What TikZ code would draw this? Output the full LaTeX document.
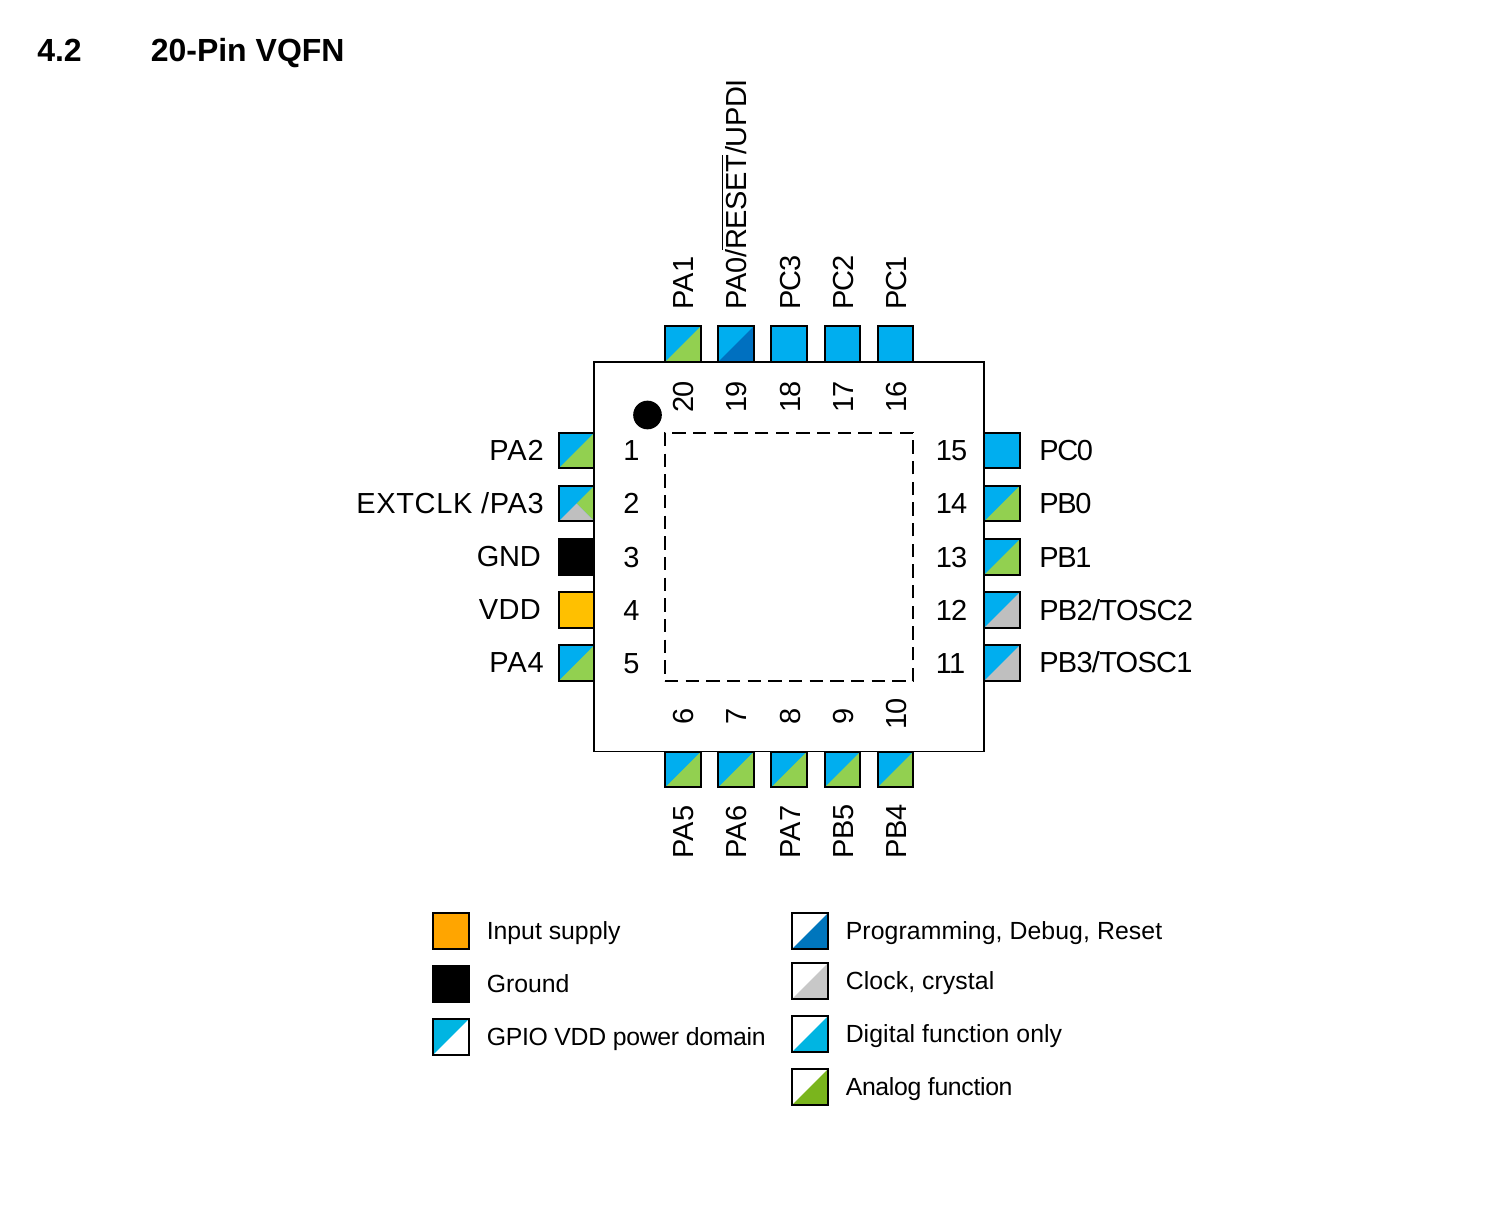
\documentclass[tikz,border=0pt]{standalone}
\usepackage{fontspec}
\setmainfont{Liberation Sans}
\definecolor{pblue}{HTML}{00AEEF}
\definecolor{pgreen}{HTML}{92D050}
\definecolor{pgray}{HTML}{BFBFBF}
\definecolor{pdark}{HTML}{0070C0}
\definecolor{pyellow}{HTML}{FFC000}
\definecolor{lorange}{HTML}{FFA500}
\definecolor{lblue}{HTML}{00B5E2}
\definecolor{lgreen}{HTML}{7AB51D}
\definecolor{lgray}{HTML}{C8C8C8}
\definecolor{ldark}{HTML}{0076BD}
\newcommand{\ovlbar}[1]{\setbox0\hbox{#1}\rlap{\rule[\dimexpr\ht0+1.8pt\relax]{\wd0}{0.8pt}}\box0}
\newcommand{\spc}[2]{{\addfontfeature{LetterSpace=#1}#2}}
\tikzset{
  x=0.75pt,y=-0.75pt,
  box/.style={draw=black,line width=1.3pt,minimum size=26.6pt,inner sep=0pt,outer sep=0pt},
  duo/.style 2 args={box,fill=#1,path picture={
    \fill[#2] (path picture bounding box.north east) -- (path picture bounding box.south east) -- (path picture bounding box.south west) -- cycle;}},
  trio/.style={box,fill=pblue,path picture={
    \fill[pgreen] (path picture bounding box.north east) -- (path picture bounding box.south east) -- (path picture bounding box.center) -- cycle;
    \fill[pgray] (path picture bounding box.south west) -- (path picture bounding box.south east) -- (path picture bounding box.center) -- cycle;}},
  plain/.style={box,fill=#1},
  an/.style={duo={pblue}{pgreen}},
  ck/.style={duo={pblue}{pgray}},
  pin/.style={inner sep=0pt,font=\fontsize{21.75pt}{24pt}\selectfont},
  vpin/.style={pin,rotate=90,anchor=base west},
  hnum/.style={pin,anchor=base},
  vnum/.style={pin,rotate=90,anchor=base},
  legend/.style={inner sep=0pt,anchor=base west,font=\fontsize{18.6pt}{22pt}\selectfont},
  heading/.style={inner sep=0pt,anchor=base west,font=\fontsize{24pt}{28pt}\selectfont\bfseries},
}
\begin{document}
\begin{tikzpicture}
\useasboundingbox (0,0) rectangle (1512,1212);
\node[heading] (secnum) at (37,62) {4.2};
\node[heading] (title) at (150.5,62) {20-Pin VQFN};

\node[box,minimum size=292.3pt] (chip) at (789,556.5) {};
\node[draw=black,line width=1pt,dash pattern=on 10pt off 5.5pt,minimum size=186pt,inner sep=0pt] (pad) at (789,557) {};
\node[fill=black,circle,minimum size=21.5pt,inner sep=0pt] (dot) at (647.5,415) {};

% left pins
\node[an] (p1) at (576.5,450.5) {};
\node[trio] (p2) at (576.5,503.5) {};
\node[plain=black] (p3) at (576.5,557) {};
\node[plain=pyellow] (p4) at (576.5,610) {};
\node[an] (p5) at (576.5,663) {};
% bottom pins
\node[an] (p6) at (683,769.5) {};
\node[an] (p7) at (736,769.5) {};
\node[an] (p8) at (789,769.5) {};
\node[an] (p9) at (842.5,769.5) {};
\node[an] (p10) at (895.5,769.5) {};
% right pins
\node[ck] (p11) at (1002,663) {};
\node[ck] (p12) at (1002,610) {};
\node[an] (p13) at (1002,557) {};
\node[an] (p14) at (1002,503.5) {};
\node[plain=pblue] (p15) at (1002,450.5) {};
% top pins
\node[plain=pblue] (p16) at (895.5,344) {};
\node[plain=pblue] (p17) at (842.5,344) {};
\node[plain=pblue] (p18) at (789,344) {};
\node[duo={pblue}{pdark}] (p19) at (736,344) {};
\node[an] (p20) at (683,344) {};

% left labels
\node[pin,anchor=base east] (l1) at (544,460) {\spc{3}{PA2}};
\node[pin,anchor=base east] (l2) at (544,513) {\spc{2.2}{EXTCLK /PA3}};
\node[pin,anchor=base east] (l3) at (541,566.5) {\spc{-1}{GND}};
\node[pin,anchor=base east] (l4) at (541,619.5) {\spc{1}{VDD}};
\node[pin,anchor=base east] (l5) at (544,672.5) {\spc{3}{PA4}};
% right labels
\node[pin,anchor=base west] (l15) at (1039,460) {\spc{-4.5}{PC0}};
\node[pin,anchor=base west] (l14) at (1039,513) {\spc{-4.5}{PB0}};
\node[pin,anchor=base west] (l13) at (1039,567) {\spc{-4.5}{PB1}};
\node[pin,anchor=base west] (l12) at (1039,620) {\spc{-2.3}{PB2/TOSC2}};
\node[pin,anchor=base west] (l11) at (1039,672) {\spc{-2.5}{PB3/TOSC1}};
% top labels
\node[vpin] (l20) at (693,309.5) {PA1};
\node[vpin] (l19) at (746,309.5) {\spc{-1.5}{PA0/\ovlbar{RESET}/UPDI}};
\node[vpin] (l18) at (800,309.5) {\spc{-5}{PC3}};
\node[vpin] (l17) at (853,309.5) {\spc{-5}{PC2}};
\node[vpin] (l16) at (906,309.5) {\spc{-6}{PC1}};
% bottom labels
\node[vpin] (l6) at (693,858.5) {PA5};
\node[vpin] (l7) at (746,858.5) {PA6};
\node[vpin] (l8) at (800,858.5) {PA7};
\node[vpin] (l9) at (853,858.5) {\spc{-2}{PB5}};
\node[vpin] (l10) at (906,858.5) {\spc{-2}{PB4}};

% pin numbers
\node[hnum] (n1) at (631.5,460.5) {1};
\node[hnum] (n2) at (631.5,513.5) {2};
\node[hnum] (n3) at (631.5,567) {3};
\node[hnum] (n4) at (631.5,620) {4};
\node[hnum] (n5) at (631.5,673) {5};
\node[hnum] (n15) at (951.5,460.5) {\spc{-3}{15}};
\node[hnum] (n14) at (951.5,513.5) {\spc{-3}{14}};
\node[hnum] (n13) at (951.5,567) {\spc{-3}{13}};
\node[hnum] (n12) at (951.5,620) {\spc{-3}{12}};
\node[hnum] (n11) at (950.5,673) {\spc{-3}{11}};
\node[vnum] (n20) at (693.5,397) {\spc{-3}{20}};
\node[vnum] (n19) at (746.5,397) {\spc{-3}{19}};
\node[vnum] (n18) at (800,397) {\spc{-3}{18}};
\node[vnum] (n17) at (853,397) {\spc{-3}{17}};
\node[vnum] (n16) at (906,397) {\spc{-3}{16}};
\node[vnum] (n6) at (693.5,716) {6};
\node[vnum] (n7) at (746.5,716) {7};
\node[vnum] (n8) at (800,716) {8};
\node[vnum] (n9) at (853,716) {9};
\node[vnum] (n10) at (906,714) {\spc{-3}{10}};

% legend
\node[plain=lorange] (k1) at (451,931) {};
\node[plain=black] (k2) at (451,984) {};
\node[duo={lblue}{white}] (k3) at (451,1037) {};
\node[duo={white}{ldark}] (k4) at (810,931) {};
\node[duo={white}{lgray}] (k5) at (810,981) {};
\node[duo={white}{lblue}] (k6) at (810,1034) {};
\node[duo={white}{lgreen}] (k7) at (810,1087) {};
\node[legend] (t1) at (486.5,939.5) {Input supply};
\node[legend] (t2) at (486.5,992.5) {Ground};
\node[legend] (t3) at (486.5,1045.5) {\spc{-1.2}{GPIO VDD power domain}};
\node[legend] (t4) at (845.5,939.5) {\spc{0.4}{Programming, Debug, Reset}};
\node[legend] (t5) at (845.5,989.5) {\spc{0.4}{Clock, crystal}};
\node[legend] (t6) at (845.5,1042.5) {\spc{0.3}{Digital function only}};
\node[legend] (t7) at (845.5,1095.5) {\spc{-1.3}{Analog function}};
\end{tikzpicture}
\end{document}
